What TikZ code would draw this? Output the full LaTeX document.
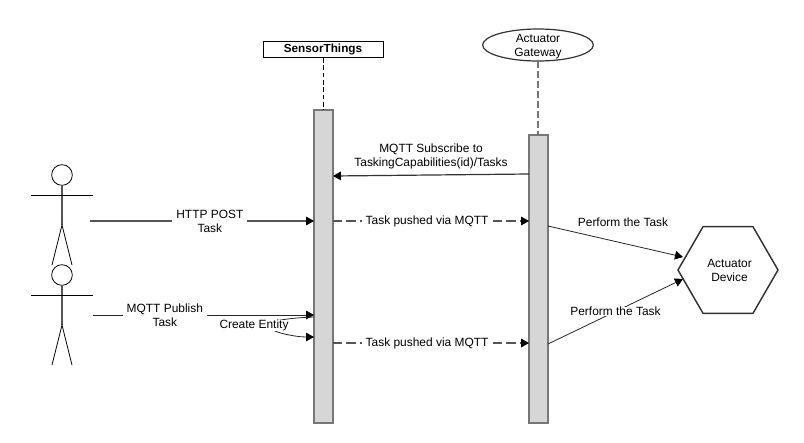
\documentclass[tikz,border=0pt]{standalone}
\usepackage{fontspec}
\setmainfont{Liberation Sans}
\usetikzlibrary{arrows.meta,shapes.geometric,calc}
\definecolor{barfill}{HTML}{D6D6D6}
\definecolor{bargray}{HTML}{777777}
\definecolor{linegray}{HTML}{555555}
\tikzset{
  lbl/.style={font=\fontsize{8.95pt}{10.5pt}\selectfont,align=center,inner sep=1pt,text=black},
  wlbl/.style={lbl,fill=white,inner xsep=3pt,inner ysep=0pt},
  bar/.style={draw=bargray,fill=barfill,line width=1.1pt,minimum width=14.2pt,inner sep=0pt,outer sep=0pt},
  tip/.style={-{Triangle[length=6pt,width=6.5pt,color=black,fill=black]}},
  msg/.style={tip,line width=.9pt,draw=linegray},
  thin msg/.style={tip,line width=.6pt,draw=black!85},
  dmsg/.style={msg,dash pattern=on 7pt off 3pt},
  life/.style={line width=.6pt,dash pattern=on 3.5pt off 2pt},
  limb/.style={line width=1pt,draw=linegray},
  arm/.style={line width=.6pt,draw=black},
}
\begin{document}
\begin{tikzpicture}[x=.75pt,y=-.75pt]
\useasboundingbox (0,0) rectangle (804,443);
% headers
\node[draw,line width=.7pt,minimum width=90pt,minimum height=12.5pt,inner sep=0pt,outer sep=0pt,font=\fontsize{8.8pt}{10pt}\selectfont\bfseries] (st) at (323,49.5) {SensorThings};
\node[draw,ellipse,line width=.9pt,minimum width=83pt,minimum height=24pt,inner sep=0pt,outer sep=0pt,draw=black!80] (gw) at (538,45) {};
\node[lbl] (gwt) at (538,46.5) {Actuator\\Gateway};
% activation bars
\node[bar,minimum height=234.75pt] (stbar) at (323.5,266.5) {};
\node[bar,minimum height=216pt] (gwbar) at (538.5,279) {};
\draw[life] (st.south) -- (st.south |- stbar.north);
\draw[life,line width=1pt,draw=bargray,dash pattern=on 5pt off 2.5pt] (gw.south) -- (gw.south |- gwbar.north);
% actor 1
\node[circle,draw,line width=.6pt,minimum size=15.5pt,inner sep=0pt,outer sep=0pt] (head1) at (62,175) {};
\coordinate (hip1) at (62,225);
\coordinate (armL1) at (31,195);
\coordinate (armR1) at (93,195);
\coordinate (legL1) at (52,265);
\coordinate (legR1) at (72,265);
\draw[limb] (head1.south) -- (hip1);
\draw[arm] (armL1) -- (armR1);
\draw[arm] (legL1) -- (hip1) -- (legR1);
% actor 2
\node[circle,draw,line width=.6pt,minimum size=15.5pt,inner sep=0pt,outer sep=0pt] (head2) at (62,275) {};
\coordinate (hip2) at (62,325);
\coordinate (armL2) at (31,295);
\coordinate (armR2) at (93,295);
\coordinate (legL2) at (52,365);
\coordinate (legR2) at (72,365);
\draw[limb] (head2.south) -- (hip2);
\draw[arm] (armL2) -- (armR2);
\draw[arm] (legL2) -- (hip2) -- (legR2);
% messages
\coordinate (a1) at (90,221);
\coordinate (a2) at (93,315);
\draw[msg] (a1) -- (stbar.west |- a1) node[wlbl,pos=.535,yshift=-.5pt] (m1) {HTTP POST\\Task};
\draw[thin msg] (a2) -- (stbar.west |- a2) node[wlbl,pos=.325] (m2) {MQTT Publish\\Task};
\coordinate (ce1) at (314,317);
\coordinate (ce2) at (314,337);
\draw[thin msg] (ce1) .. controls (285,318) and (265,322) .. (268,326) .. controls (270,332) and (295,337) .. (ce2);
\node[wlbl,inner xsep=0pt] (m3) at (254,325.5) {Create Entity};
\coordinate (s1) at (0,174);
\coordinate (s2) at (0,176);
\draw[msg,draw=black!80] (gwbar.west |- s1) -- (stbar.east |- s2);
\node[lbl] (m4) at (431,156.5) {MQTT Subscribe to\\TaskingCapabilities(id)/Tasks};
\coordinate (p1) at (0,221);
\coordinate (p2) at (0,343);
\draw[dmsg] (stbar.east |- p1) -- (gwbar.west |- p1) node[wlbl,pos=.48] (m5) {Task pushed via MQTT};
\draw[dmsg] (stbar.east |- p2) -- (gwbar.west |- p2) node[wlbl,pos=.48] (m6) {Task pushed via MQTT};
% hexagon
\node[regular polygon,regular polygon sides=6,draw=black!80,line width=1.1pt,minimum size=75pt,inner sep=0pt,outer sep=0pt] (hex) at (728,270) {};
\node[lbl] (hext) at (729.5,270.5) {Actuator\\Device};
\coordinate (h1) at (683,257);
\coordinate (h2) at (683,279);
\coordinate (q1) at (0,226);
\coordinate (q2) at (0,344);
\draw[thin msg] (gwbar.east |- q1) -- (h1);
\node[lbl] (m7) at (623,222.5) {Perform the Task};
\draw[thin msg] (gwbar.east |- q2) -- (h2) node[wlbl,pos=.5,yshift=0pt] (m8) {Perform the Task};
\end{tikzpicture}
\end{document}
